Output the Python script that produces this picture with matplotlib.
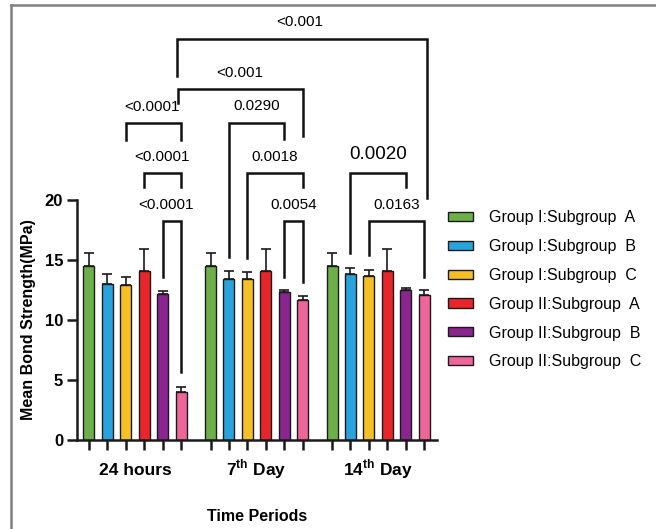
import numpy as np
import matplotlib
matplotlib.use("Agg")
import matplotlib.pyplot as plt
from matplotlib.lines import Line2D
import matplotlib.transforms as mtransforms

plt.rcParams['font.family'] = ['Liberation Sans', 'DejaVu Sans']
plt.rcParams['mathtext.fontset'] = 'custom'
plt.rcParams['mathtext.rm'] = 'Liberation Sans'
plt.rcParams['mathtext.bf'] = 'Liberation Sans:bold'

# data
periods = ["24 hours", r"7$^{\mathbf{th}}$ Day", r"14$^{\mathbf{th}}$ Day"]
subgroups = ["Group I:Subgroup  A", "Group I:Subgroup  B", "Group I:Subgroup  C",
             "Group II:Subgroup  A", "Group II:Subgroup  B", "Group II:Subgroup  C"]
colors = ["#6DB04A", "#29A3DD", "#F5C026", "#E8252B", "#8A2590", "#EE6699"]

means_24h = [14.5, 13.0, 12.9, 14.1, 12.2, 4.0]
means_7d = [14.5, 13.4, 13.4, 14.1, 12.3, 11.7]
means_14d = [14.5, 13.85, 13.7, 14.1, 12.5, 12.1]
err_24h = [1.1, 0.8, 0.7, 1.8, 0.2, 0.45]
err_7d = [1.1, 0.7, 0.6, 1.85, 0.2, 0.3]
err_14d = [1.1, 0.5, 0.5, 1.85, 0.15, 0.4]

means = [means_24h, means_7d, means_14d]
errs = [err_24h, err_7d, err_14d]

# p-value labels of the brackets
p_labels = ["<0.001", "<0.001", "<0.0001", "0.0290", "<0.0001", "0.0018",
            "0.0020", "<0.0001", "0.0054", "0.0163"]

gstep = 6.6
nsub = len(subgroups)


def xpos(g, i):
    return g * gstep + i


fig = plt.figure(figsize=(6.56, 5.29), dpi=100)
ax = fig.add_axes([77 / 656, 89 / 529, 360 / 656, 240 / 529])

for i in range(nsub):
    xs = [xpos(g, i) for g in range(3)]
    vals = [means[g][i] for g in range(3)]
    e = [errs[g][i] for g in range(3)]
    ax.bar(xs, vals, width=0.6, color=colors[i], edgecolor='#1a1a1a',
           linewidth=1.0, label=subgroups[i], zorder=2)
    ax.errorbar(xs, vals, yerr=[np.zeros(3), e], fmt='none', ecolor='#1a1a1a',
                elinewidth=1.2, capsize=3.5, capthick=1.2, zorder=1)

ax.set_xlim(-0.65, xpos(2, 5) + 0.7)
ax.set_ylim(0, 20)
ax.set_yticks([0, 5, 10, 15, 20])
ax.set_yticklabels(["0", "5", "10", "15", "20"], fontsize=12, fontweight='bold')
ax.set_xticks([xpos(g, i) for g in range(3) for i in range(nsub)])
ax.set_xticklabels([])
ax.tick_params(axis='both', which='major', length=7, width=1.8, color='#1a1a1a')
ax.tick_params(axis='y', pad=3)
for s in ['top', 'right']:
    ax.spines[s].set_visible(False)
for s in ['left', 'bottom']:
    ax.spines[s].set_linewidth(1.8)
    ax.spines[s].set_color('#1a1a1a')

# group labels, baseline aligned
trans = mtransforms.blended_transform_factory(ax.transData, ax.transAxes)
for g, lab in enumerate(periods):
    ax.text(xpos(g, 2.5), -35 / 240, lab, transform=trans, fontsize=12.5,
            fontweight='bold', ha='center', va='baseline')

ax.set_ylabel("Mean Bond Strength(MPa)", fontsize=11.5, fontweight='bold', labelpad=6)
fig.text(256.7 / 656, 1 - 516.7 / 529, "Time Periods", fontsize=11.5,
         fontweight='bold', ha='center', va='center')

# brackets: (x left, x right, bar height, left leg end, right leg end)
brackets = [
    (4.77, 18.35, 33.4, 30.3, 20.2),
    (4.84, 11.6, 29.25, 28.1, 25.3),
    (2.0, 5.0, 26.4, 25.0, 25.0),
    (7.6, 10.6, 26.4, 15.25, 25.1),
    (3.0, 5.0, 22.25, 21.1, 21.1),
    (8.6, 11.6, 22.25, 15.2, 21.1),
    (14.2, 17.2, 22.25, 15.6, 21.1),
    (4.0, 5.0, 18.25, 13.6, 5.67),
    (10.6, 11.6, 18.25, 13.6, 13.2),
    (15.2, 18.2, 18.25, 15.4, 13.6),
]
label_pos = [(11.47, 34.8), (8.2, 30.6), (3.4, 27.75), (9.1, 27.8), (3.97, 23.6),
             (10.1, 23.6), (15.7, 23.8), (4.2, 19.6), (11.1, 19.6), (16.7, 19.6)]
label_size = [11, 11, 11, 11, 11, 11, 13.5, 11, 11, 11]

for (x1, x2, yh, y1, y2), lab, (lx, ly), fs in zip(brackets, p_labels, label_pos, label_size):
    ax.plot([x1, x1, x2, x2], [y1, yh, yh, y2], color='#111111', lw=1.8,
            clip_on=False, solid_joinstyle='miter', zorder=3)
    ax.text(lx, ly, lab, fontsize=fs, ha='center', va='center', clip_on=False)

fig.legend(loc='upper left', bbox_to_anchor=(448 / 656, 1 - 210 / 529),
           frameon=False, fontsize=11.5, handlelength=1.55, handleheight=0.5,
           handletextpad=1.0, labelspacing=0.87, borderpad=0, borderaxespad=0)

# outer frame
fig.add_artist(Line2D([11 / 656, 11 / 656], [0, 1 - 4.5 / 529], color='#808080', lw=1.8))
fig.add_artist(Line2D([11 / 656, 1], [1 - 4.5 / 529, 1 - 4.5 / 529], color='#808080', lw=1.8))

fig.savefig("out.png", dpi=100)
